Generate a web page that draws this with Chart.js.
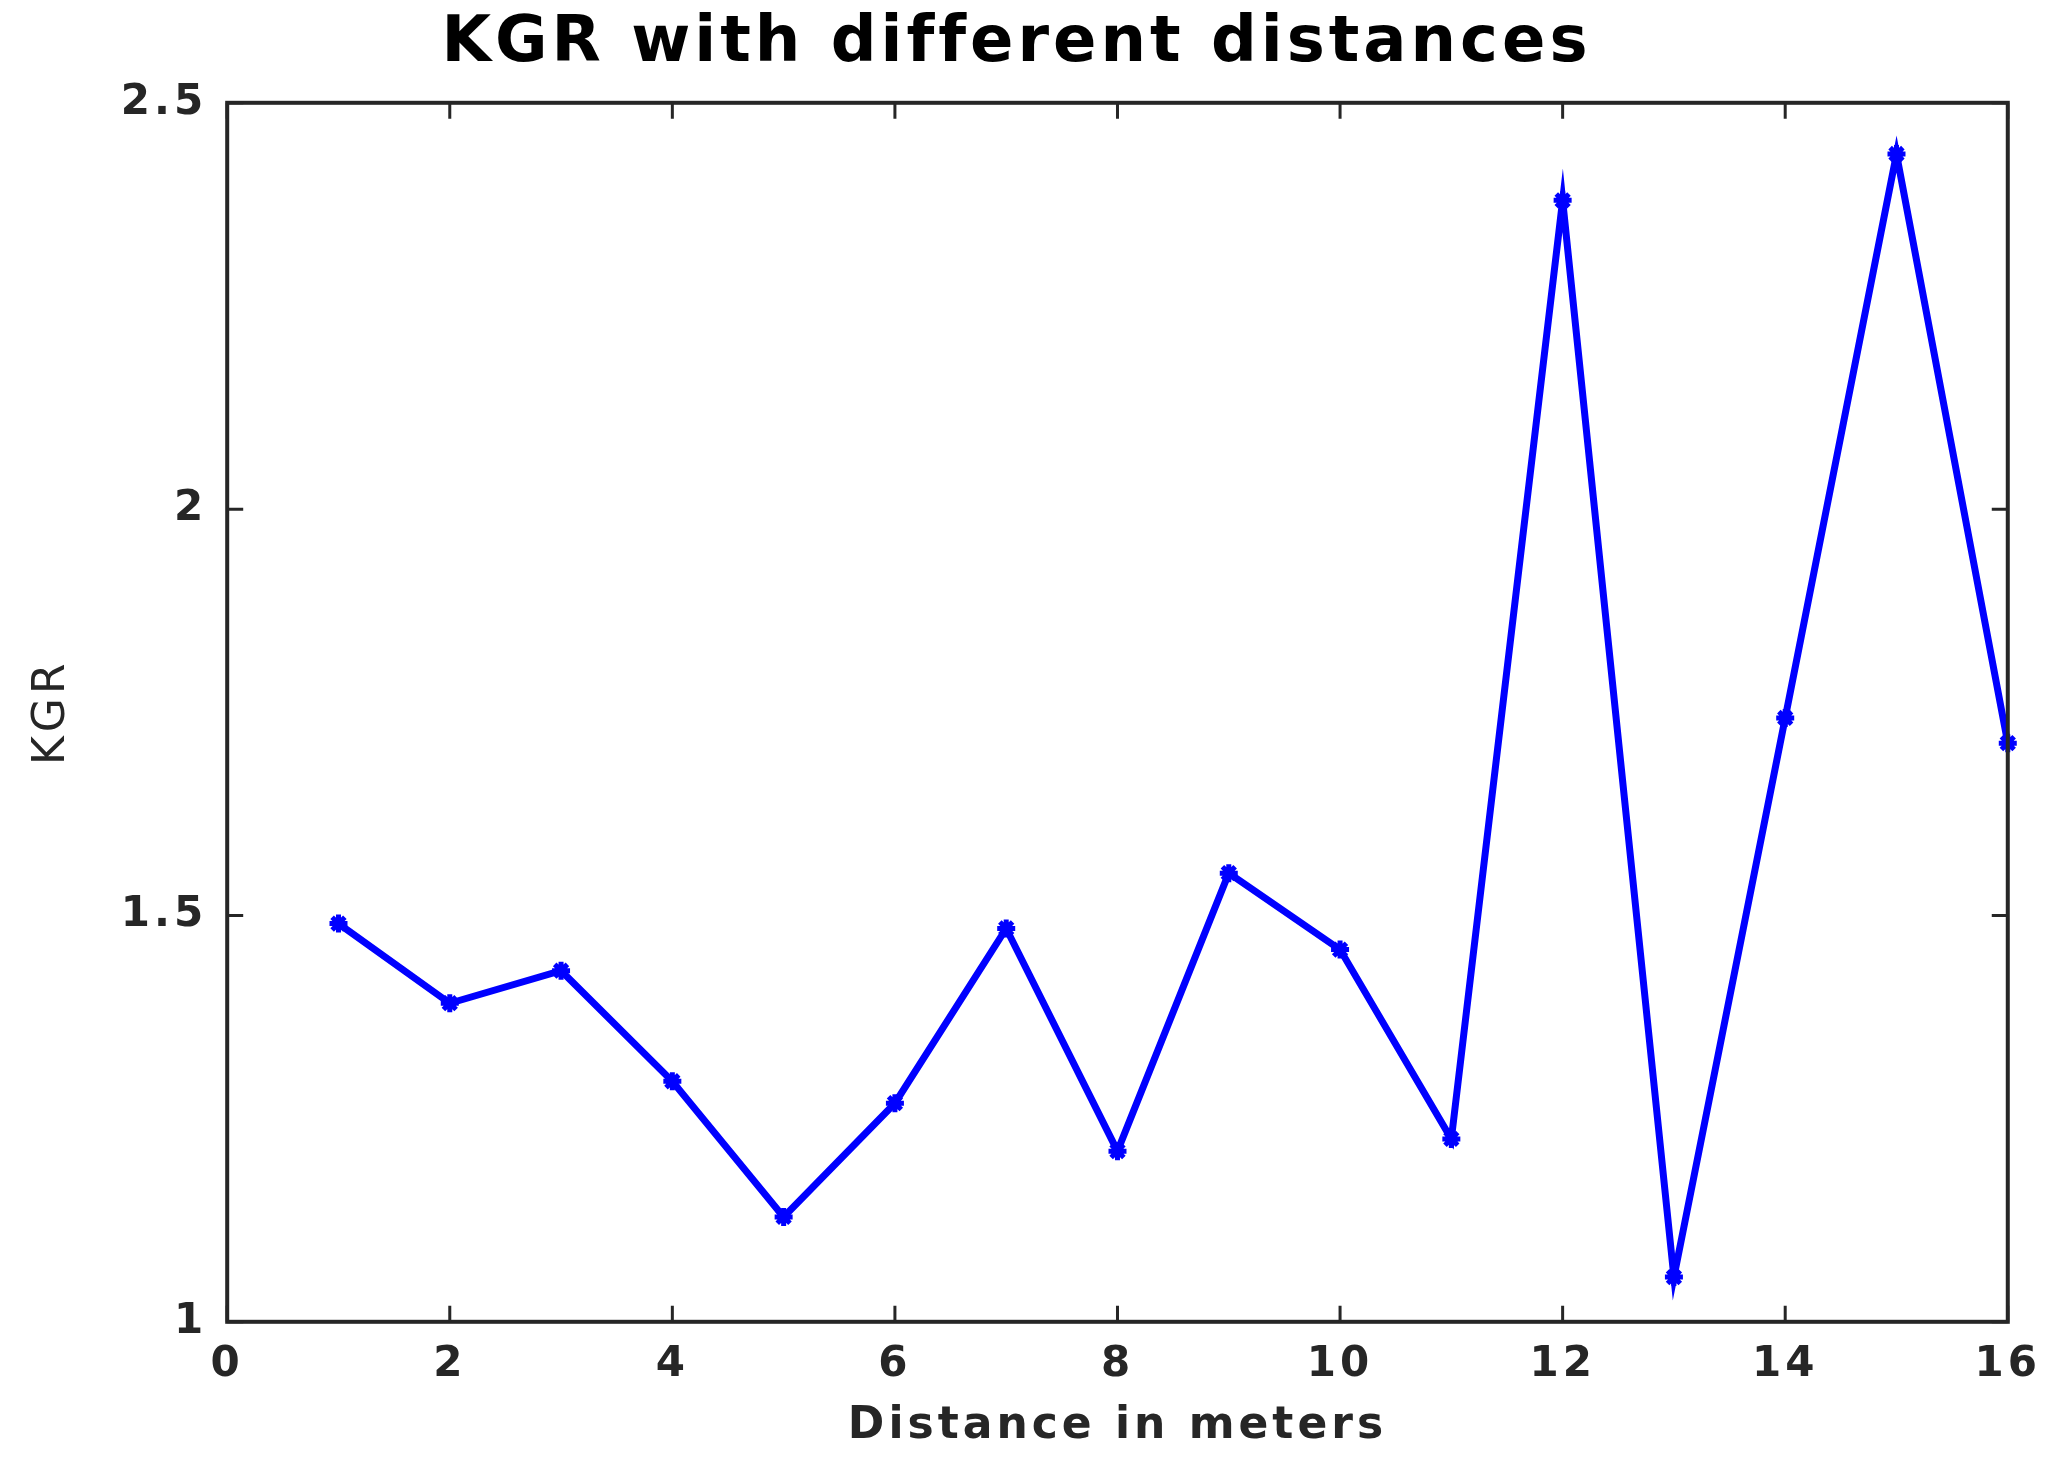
<!DOCTYPE html>
<html><head><meta charset="utf-8">
<script src="https://cdn.jsdelivr.net/npm/chart.js@4"></script>
<style>html,body{margin:0;padding:0;background:#fff}#w{width:2051px;height:1465px}</style>
</head><body><div id="w"><canvas id="c"></canvas></div>
<script>
const distances=[1,2,3,4,5,6,7,8,9,10,11,12,13,14,15,16];
const kgr=[1.490,1.392,1.432,1.296,1.129,1.269,1.484,1.210,1.552,1.458,1.225,2.380,1.055,1.743,2.437,1.712];
const xTicks=[0,2,4,6,8,10,12,14,16];
const yTicks=[1,1.5,2,2.5];
const F='"DejaVu Sans", sans-serif';
const spacing={id:'spacing',beforeLayout(ch){ch.ctx.letterSpacing='4px';},beforeDraw(ch){ch.ctx.letterSpacing='4px';}};
const frame={id:'frame',afterDraw(ch){const c=ch.ctx,a=ch.chartArea,x=ch.scales.x,y=ch.scales.y;c.save();c.strokeStyle='#262626';c.lineWidth=4;c.strokeRect(a.left,a.top,a.right-a.left,a.bottom-a.top);c.lineWidth=3;const L=16;
xTicks.forEach(v=>{const p=x.getPixelForValue(v);c.beginPath();c.moveTo(p,a.bottom);c.lineTo(p,a.bottom-L);c.moveTo(p,a.top);c.lineTo(p,a.top+L);c.stroke();});
yTicks.forEach(v=>{const p=y.getPixelForValue(v);c.beginPath();c.moveTo(a.left,p);c.lineTo(a.left+L,p);c.moveTo(a.right,p);c.lineTo(a.right-L,p);c.stroke();});c.restore();}};
new Chart(document.getElementById('c'),{type:'line',
data:{datasets:[{data:distances.map((d,i)=>({x:d,y:kgr[i]})),borderColor:'#0000ff',backgroundColor:'#0000ff',borderWidth:7,pointRadius:9,pointStyle:'star',pointBorderWidth:5,tension:0,clip:false}]},
options:{responsive:true,maintainAspectRatio:false,animation:false,
layout:{padding:{left:22,right:40,top:0,bottom:8}},
plugins:{legend:{display:false},tooltip:{enabled:false},
title:{display:true,text:'KGR with different distances',color:'#000',font:{family:F,size:64,weight:'bold'},padding:{top:6,bottom:20}}},
scales:{
x:{type:'linear',min:0,max:16,afterBuildTicks:s=>{s.ticks=xTicks.map(v=>({value:v}))},grid:{display:false},border:{display:false},
ticks:{color:'#262626',font:{family:F,size:42,weight:'bold'},padding:10,maxRotation:0},
title:{display:true,text:'Distance in meters',color:'#262626',font:{family:F,size:44,weight:'bold'},padding:{top:0}}},
y:{min:1,max:2.5,afterBuildTicks:s=>{s.ticks=yTicks.map(v=>({value:v}))},grid:{display:false},border:{display:false},
ticks:{color:'#262626',font:{family:F,size:42,weight:'bold'},padding:12,callback:v=>String(v)},
title:{display:true,text:'KGR',color:'#262626',font:{family:F,size:44,weight:'normal'},padding:{bottom:30}}}}},
plugins:[spacing,frame]});
</script></body></html>
